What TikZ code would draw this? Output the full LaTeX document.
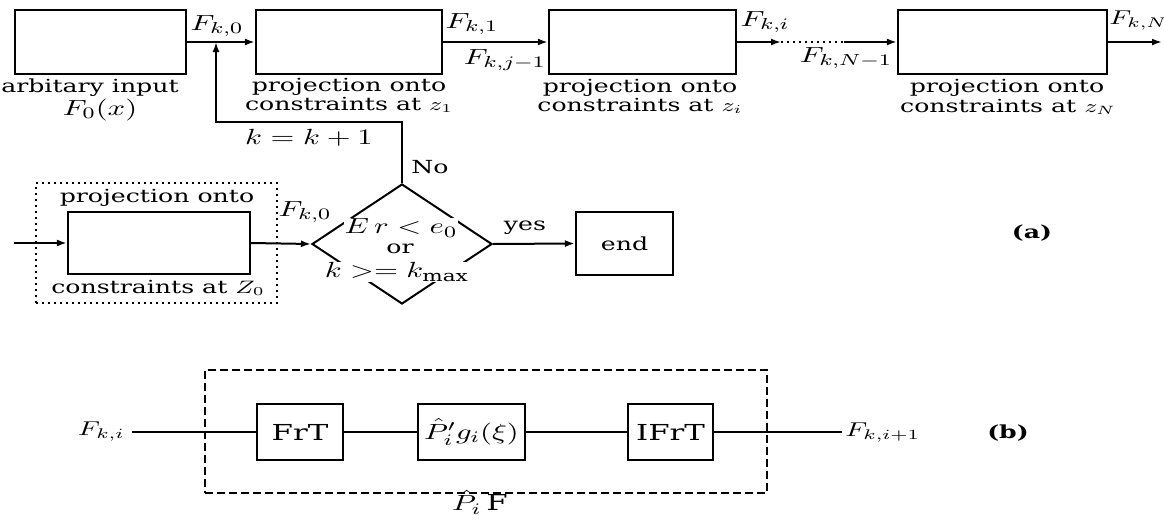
\documentclass[tikz,border=0pt]{standalone}
\usepackage{fontspec}
\usepackage{graphicx}
\setmainfont{DejaVu Serif}
\usetikzlibrary{arrows.meta,shapes.geometric}
\newcommand{\ws}[1]{\scalebox{1.4}[1]{#1}}
\begin{document}
\begin{tikzpicture}[x=0.5pt,y=-0.5pt,
  font=\fontsize{9}{10}\selectfont,
  blk/.style={draw, line width=1.1pt, inner sep=0pt},
  lbl/.style={inner sep=1pt},
  ml/.style={inner sep=1pt, font=\fontsize{11}{12}\selectfont},
  conn/.style={line width=1pt},
  arr/.style={conn,-{Latex[length=5pt,width=3.5pt]}},
  big/.style={font=\fontsize{11}{12}\selectfont}
]
\useasboundingbox (0,0) rectangle (1164,520);

% ---------- top row ----------
\node[blk, minimum width=85.5pt, minimum height=32pt] (b1) at (100.5,42) {};
\node[blk, minimum width=93pt,   minimum height=32pt] (b2) at (349,42) {};
\node[blk, minimum width=93.5pt, minimum height=32pt] (b3) at (642.5,42) {};
\node[blk, minimum width=104.5pt,minimum height=32pt] (b4) at (1002.5,42) {};

\node[lbl] (t1a) at (90,88)  {\ws{arbitary input}};
\node[ml] (t1b) at (100,110) {\ws{$F_0(x)$}};
\node[lbl] (t2a) at (349,87)  {\ws{projection onto}};
\node[lbl] (t2b) at (349,105) {\ws{constraints at $z_1$}};
\node[lbl] (t3a) at (640,88)  {\ws{projection onto}};
\node[lbl] (t3b) at (640,106) {\ws{constraints at $z_i$}};
\node[lbl] (t4a) at (1007,88)  {\ws{projection onto}};
\node[lbl] (t4b) at (1008,107) {\ws{constraints at $z_N$}};

\coordinate (j) at (216,42);
\coordinate (fb) at (402,122);
\coordinate (d1) at (781,42);
\coordinate (d2) at (844,42);
\coordinate (out) at (1162,42);

\draw[conn] (b1.east) -- (j);
\draw[arr] (j) -- (b2.west);
\draw[arr] (b2.east) -- (b3.west);
\draw[arr] (b3.east) -- (d1);
\draw[conn, dotted] (d1) -- (d2);
\draw[arr] (d2) -- (b4.west);
\draw[arr] (b4.east) -- (out);

\node[ml] (lk0) at (217,26) {\ws{$F_{k,0}$}};
\node[ml] (lk1) at (472,24) {\ws{$F_{k,1}$}};
\node[ml] (lkj) at (505,60) {\ws{$F_{k,j-1}$}};
\node[ml] (lki) at (765,22) {\ws{$F_{k,i}$}};
\node[ml] (lkn1) at (846,58) {\ws{$F_{k,N-1}$}};
\node[lbl, font=\fontsize{10}{11}\selectfont, anchor=west] (lkn) at (1107,21) {\ws{$F_{k,N}$}};

% ---------- decision row ----------
\node[draw, dotted, line width=1pt, minimum width=120.5pt, minimum height=60pt] (zfr) at (156.5,243) {};
\node[blk, minimum width=91pt, minimum height=31pt] (pz) at (159,243) {};
\node[lbl] (tza) at (157,198) {\ws{projection onto}};
\node[lbl] (tzb) at (158,288) {\ws{constraints at $Z_0$}};

\node[draw, diamond, line width=1pt, inner sep=0pt, minimum width=90pt, minimum height=60pt] (dec) at (402,244) {};
\node[ml, fill=white, inner sep=0.3pt] (c1) at (401,228) {\ws{$E\,r < e_0$}};
\node[lbl, fill=white, inner sep=0.3pt] (c2) at (400,249) {\ws{or}};
\node[ml, fill=white, inner sep=0.3pt] (c3) at (397,272) {\ws{$k >= k_{\max}$}};

\node[blk, minimum width=48.5pt, minimum height=31.5pt] (endb) at (624.5,243.5) {\ws{end}};

\coordinate (zin) at (14,243);
\draw[arr] (zin) -- (pz.west);
\draw[arr] (pz.east) -- (dec.west);
\draw[arr] (dec.east) -- (endb.west);
\draw[arr] (dec.north) -- (fb) -| (j);

\node[ml] (lk0b) at (305,212) {\ws{$F_{k,0}$}};
\node[lbl] (lyes) at (525,228) {\ws{yes}};
\node[lbl] (lno) at (430,167) {\ws{No}};
\node[ml] (lkk) at (309,138) {\ws{$k = k + 1$}};
\node[lbl] (la) at (1032,233) {\ws{\textbf{(a)}}};

% ---------- part (b) ----------
\node[draw, dashed, line width=1pt, dash pattern=on 4pt off 2pt, minimum width=281pt, minimum height=61.5pt] (pfr) at (486,431.5) {};
\node[blk, big, minimum width=43pt,   minimum height=28pt] (frt)  at (300,432)   {\ws{FrT}};
\node[blk, big, minimum width=53.5pt, minimum height=28pt] (pb)   at (471.5,432) {\ws{$\hat{P}'_{i}g_{i}(\xi)$}};
\node[blk, big, minimum width=42.5pt, minimum height=28pt] (ifrt) at (670.5,432) {\ws{IFrT}};

\coordinate (bin) at (132,432);
\coordinate (bout) at (842,432);
\draw[line width=1.4pt] (bin) -- (frt.west);
\draw[line width=0.9pt] (frt.east) -- (pb.west);
\draw[line width=0.9pt] (pb.east) -- (ifrt.west);
\draw[line width=1.4pt] (ifrt.east) -- (bout);

\node[lbl, font=\fontsize{10}{11}\selectfont, anchor=east] (lbi) at (127,432) {\ws{$F_{k,i}$}};
\node[lbl, font=\fontsize{10}{11}\selectfont, anchor=west] (lbo) at (843,433) {\ws{$F_{k,i+1}$}};
\node[lbl, big] (lpf) at (480,502) {\ws{$\hat{P}_{i}\,\mathrm{F}$}};
\node[lbl] (lb) at (1008,433) {\ws{\textbf{(b)}}};
\end{tikzpicture}
\end{document}
